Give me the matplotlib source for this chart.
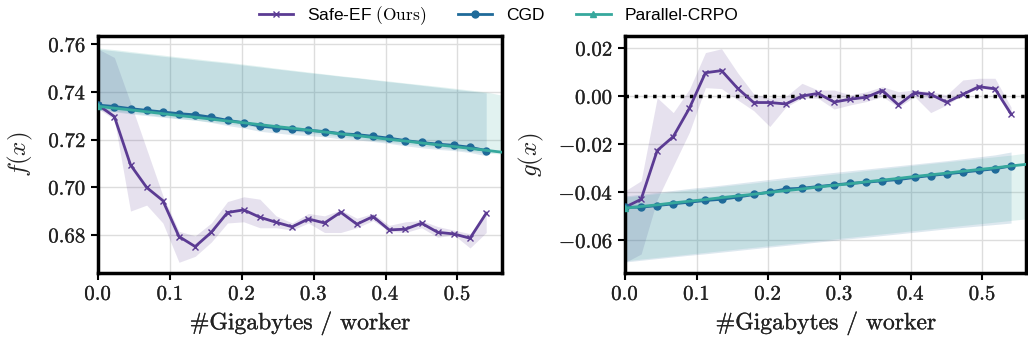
import numpy as np
import matplotlib
matplotlib.use("Agg")
import matplotlib.pyplot as plt
import matplotlib.patheffects as pe
from matplotlib.ticker import FuncFormatter

plt.rcParams['font.family'] = ['Liberation Sans', 'DejaVu Sans']
plt.rcParams['mathtext.fontset'] = 'cm'

# x positions (gigabytes / worker)
x_steps = [0.0, 0.0225, 0.045, 0.0675, 0.09, 0.1125, 0.135, 0.1575, 0.18, 0.2025,
           0.225, 0.2475, 0.27, 0.2925, 0.315, 0.3375, 0.36, 0.3825, 0.405, 0.4275,
           0.45, 0.4725, 0.495, 0.5175, 0.54]
x_crpo = x_steps + [0.5625, 0.585]

# ---- f(x) ----
safe_f = [0.7345, 0.7297, 0.7094, 0.6999, 0.6944, 0.6793, 0.6751, 0.6811, 0.6894, 0.6905,
          0.6874, 0.6853, 0.6834, 0.6867, 0.6850, 0.6895, 0.6845, 0.6877, 0.6821, 0.6824,
          0.6849, 0.6811, 0.6804, 0.6786, 0.6891]
safe_f_lo = [0.7330, 0.7285, 0.6900, 0.6925, 0.6850, 0.6685, 0.6710, 0.6770, 0.6850, 0.6855,
             0.6830, 0.6830, 0.6820, 0.6850, 0.6810, 0.6810, 0.6830, 0.6860, 0.6815, 0.6810,
             0.6830, 0.6790, 0.6800, 0.6745, 0.6810]
safe_f_hi = [0.7580, 0.7545, 0.7355, 0.7160, 0.6965, 0.6815, 0.6796, 0.6850, 0.6940, 0.6960,
             0.6950, 0.6880, 0.6850, 0.6890, 0.6880, 0.6905, 0.6870, 0.6890, 0.6840, 0.6855,
             0.6860, 0.6835, 0.6820, 0.6805, 0.6890]

cgd_f = [0.7345, 0.7339, 0.7330, 0.7323, 0.7316, 0.7309, 0.7304, 0.7294, 0.7281, 0.7271,
         0.7257, 0.7250, 0.7243, 0.7239, 0.7234, 0.7225, 0.7221, 0.7214, 0.7206, 0.7196,
         0.7188, 0.7181, 0.7176, 0.7168, 0.7154]
cgd_f_lo = [0.7323, 0.7317, 0.7308, 0.7301, 0.7294, 0.7287, 0.7282, 0.7272, 0.7259, 0.7249,
            0.7235, 0.7228, 0.7221, 0.7217, 0.7212, 0.7203, 0.7199, 0.7192, 0.7184, 0.7174,
            0.7166, 0.7159, 0.7154, 0.7146, 0.7132]
cgd_f_hi = [0.7580, 0.7573, 0.7565, 0.7558, 0.7550, 0.7543, 0.7535, 0.7528, 0.7521, 0.7513,
            0.7505, 0.7497, 0.7489, 0.7481, 0.7474, 0.7466, 0.7459, 0.7451, 0.7443, 0.7436,
            0.7428, 0.7420, 0.7412, 0.7404, 0.7396]

crpo_f = [0.7340, 0.7332, 0.7325, 0.7317, 0.7309, 0.7301, 0.7294, 0.7286, 0.7278, 0.7271,
          0.7263, 0.7255, 0.7248, 0.7240, 0.7232, 0.7224, 0.7217, 0.7209, 0.7201, 0.7194,
          0.7186, 0.7178, 0.7171, 0.7163, 0.7155, 0.7147, 0.7139]
crpo_f_lo = [0.7328, 0.7320, 0.7313, 0.7305, 0.7297, 0.7289, 0.7282, 0.7274, 0.7266, 0.7259,
             0.7251, 0.7243, 0.7236, 0.7228, 0.7220, 0.7212, 0.7205, 0.7197, 0.7189, 0.7182,
             0.7174, 0.7166, 0.7159, 0.7151, 0.7143, 0.7140, 0.7133]
crpo_f_hi = [0.7585, 0.7578, 0.7570, 0.7562, 0.7555, 0.7547, 0.7540, 0.7532, 0.7525, 0.7517,
             0.7509, 0.7500, 0.7492, 0.7484, 0.7476, 0.7468, 0.7461, 0.7453, 0.7446, 0.7438,
             0.7431, 0.7424, 0.7416, 0.7408, 0.7400, 0.7386, 0.7378]

# ---- g(x) ----
safe_g = [-0.0462, -0.0429, -0.0226, -0.0168, -0.0050, 0.0098, 0.0107, 0.0033, -0.0026, -0.0026,
          -0.0032, 0.0001, 0.0012, -0.0024, -0.0012, -0.0004, 0.0024, -0.0036, 0.0015, 0.0008,
          -0.0025, 0.0008, 0.0040, 0.0031, -0.0074]
safe_g_lo = [-0.0692, -0.0657, -0.0430, -0.0290, -0.0150, 0.0036, 0.0032, -0.0015, -0.0060, -0.0126,
             -0.0045, -0.0008, -0.0008, -0.0053, -0.0036, -0.0022, -0.0001, -0.0046, -0.0001, -0.0068,
             -0.0036, 0.0006, 0.0033, 0.0026, -0.0090]
safe_g_hi = [-0.0394, -0.0352, -0.0006, -0.0068, 0.0029, 0.0182, 0.0198, 0.0098, 0.0010, -0.0008,
             -0.0001, 0.0054, 0.0026, 0.0026, 0.0006, 0.0019, 0.0040, 0.0019, 0.0026, 0.0019,
             0.0006, 0.0068, 0.0075, 0.0075, -0.0045]

cgd_g = [-0.0462, -0.0462, -0.0455, -0.0448, -0.0441, -0.0434, -0.0429, -0.0420, -0.0409, -0.0399,
         -0.0386, -0.0383, -0.0376, -0.0369, -0.0363, -0.0358, -0.0352, -0.0347, -0.0338, -0.0330,
         -0.0323, -0.0316, -0.0309, -0.0302, -0.0290]
cgd_g_lo = [-0.0690, -0.0683, -0.0676, -0.0669, -0.0662, -0.0656, -0.0649, -0.0642, -0.0635, -0.0628,
            -0.0621, -0.0614, -0.0607, -0.0600, -0.0593, -0.0587, -0.0580, -0.0573, -0.0566, -0.0559,
            -0.0552, -0.0546, -0.0540, -0.0534, -0.0528]
cgd_g_hi = [-0.0415, -0.0408, -0.0400, -0.0392, -0.0384, -0.0377, -0.0370, -0.0362, -0.0354, -0.0346,
            -0.0338, -0.0331, -0.0324, -0.0317, -0.0310, -0.0303, -0.0296, -0.0289, -0.0282, -0.0275,
            -0.0268, -0.0260, -0.0252, -0.0244, -0.0232]

crpo_g = [-0.0466, -0.0459, -0.0452, -0.0444, -0.0437, -0.0430, -0.0422, -0.0415, -0.0408, -0.0400,
          -0.0393, -0.0386, -0.0378, -0.0371, -0.0364, -0.0356, -0.0349, -0.0342, -0.0334, -0.0327,
          -0.0320, -0.0312, -0.0305, -0.0298, -0.0290, -0.0283, -0.0276]
crpo_g_lo = [-0.0685, -0.0678, -0.0671, -0.0664, -0.0657, -0.0650, -0.0643, -0.0636, -0.0629, -0.0622,
             -0.0615, -0.0608, -0.0601, -0.0594, -0.0587, -0.0580, -0.0573, -0.0566, -0.0559, -0.0552,
             -0.0545, -0.0538, -0.0531, -0.0524, -0.0517, -0.0510, -0.0503]
crpo_g_hi = [-0.0420, -0.0413, -0.0405, -0.0398, -0.0390, -0.0383, -0.0375, -0.0368, -0.0361, -0.0353,
             -0.0346, -0.0339, -0.0331, -0.0324, -0.0317, -0.0309, -0.0302, -0.0295, -0.0287, -0.0280,
             -0.0273, -0.0266, -0.0259, -0.0252, -0.0245, -0.0236, -0.0229]

purple = '#5b3b93'
blue = '#1f6a99'
teal = '#36a89d'

thicken = [pe.withStroke(linewidth=0.2, foreground='#222222')]


def draw(ax, safe, safe_lo, safe_hi, cgd, cgd_lo, cgd_hi, crpo, crpo_lo, crpo_hi):
    ax.fill_between(x_steps, safe_lo, safe_hi, color=purple, alpha=0.15, lw=0)
    ax.fill_between(x_steps, cgd_lo, cgd_hi, color=blue, alpha=0.15, lw=0)
    ax.fill_between(x_crpo, crpo_lo, crpo_hi, color=teal, alpha=0.15, lw=0)
    ax.plot(x_steps, safe, color=purple, lw=2, marker='x', ms=5, mew=1,
            label=r'Safe-EF $\mathrm{(Ours)}$', zorder=4)
    ax.plot(x_steps, cgd, color=blue, lw=2, marker='o', ms=5,
            label='CGD', zorder=4)
    ax.plot(x_crpo, crpo, color=teal, lw=2, marker='^', ms=5, markevery=[0],
            label='Parallel-CRPO', zorder=5)
    ax.set_xlim(0, 0.5615)
    ax.set_xticks([0.0, 0.1, 0.2, 0.3, 0.4, 0.5])
    ax.xaxis.set_major_formatter(FuncFormatter(lambda v, p: f'${v:.1f}$'))
    ax.yaxis.set_major_formatter(FuncFormatter(lambda v, p: f'${v:.2f}$'))
    ax.grid(True, color='#dddddd', lw=1)
    ax.set_axisbelow(True)
    for s in ax.spines.values():
        s.set_linewidth(2.5)
        s.set_color('black')
    ax.tick_params(direction='out', length=5, width=1.5, labelsize=15, colors='black')
    for lab in ax.get_xticklabels() + ax.get_yticklabels():
        lab.set_color('#222222')
        lab.set_path_effects(thicken)
    ax.set_xlabel('#Gigabytes / worker', fontsize=17, labelpad=5, family='cmr10',
                  color='#222222', path_effects=thicken)


fig = plt.figure(figsize=(10.28, 3.48), dpi=100)
ax1 = fig.add_axes([0.0955, 0.2155, 0.3925, 0.681])
ax2 = fig.add_axes([0.608, 0.2155, 0.3905, 0.681])

draw(ax1, safe_f, safe_f_lo, safe_f_hi, cgd_f, cgd_f_lo, cgd_f_hi, crpo_f, crpo_f_lo, crpo_f_hi)
ax1.set_ylim(0.664, 0.7635)
ax1.set_yticks([0.68, 0.70, 0.72, 0.74, 0.76])
ax1.set_ylabel(r'$f(x)$', fontsize=18, labelpad=9, color='#222222')

draw(ax2, safe_g, safe_g_lo, safe_g_hi, cgd_g, cgd_g_lo, cgd_g_hi, crpo_g, crpo_g_lo, crpo_g_hi)
ax2.axhline(0, color='black', ls=':', lw=2.5, zorder=3)
ax2.set_ylim(-0.0736, 0.0251)
ax2.set_yticks([-0.06, -0.04, -0.02, 0.00, 0.02])
ax2.set_ylabel(r'$g(x)$', fontsize=18, labelpad=9, color='#222222')

handles, labels = ax1.get_legend_handles_labels()
fig.legend(handles, labels, loc='center', bbox_to_anchor=(0.485, 0.955), ncol=3,
           frameon=False, fontsize=12.5, handlelength=2.0, columnspacing=1.8)

fig.savefig('out.png', dpi=100)
